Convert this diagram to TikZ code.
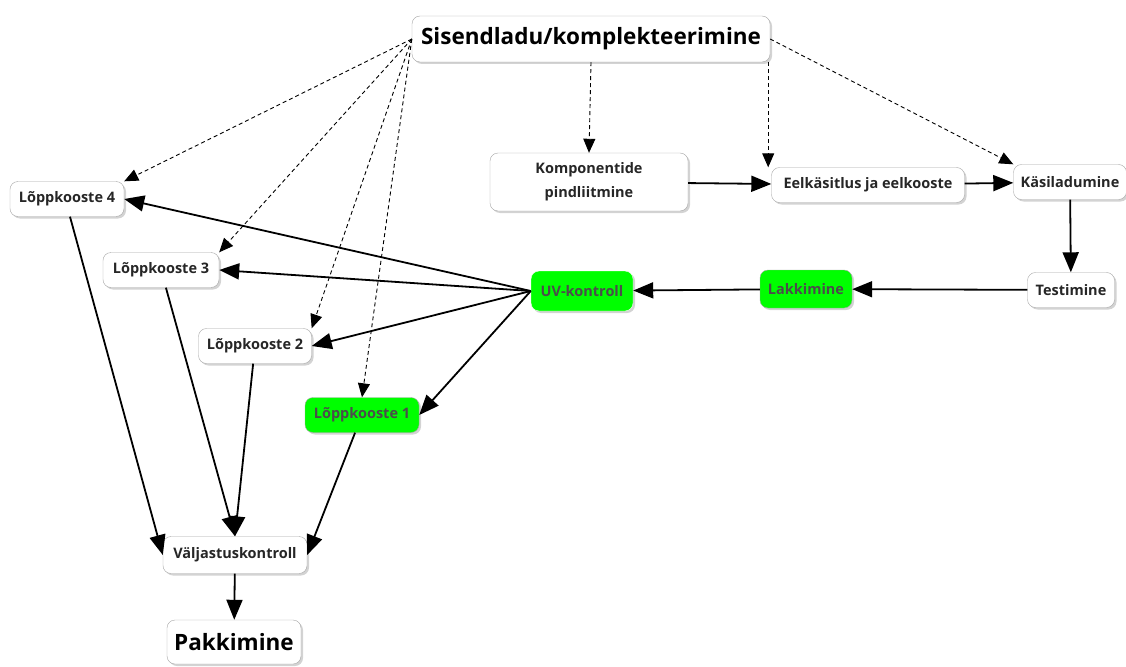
\documentclass[tikz,border=0pt]{standalone}
\usepackage{fontspec}
\setmainfont{Open Sans}
\usetikzlibrary{arrows.meta,shadows}

\begin{document}
\begin{tikzpicture}[x=1pt,y=-1pt,
  box/.style={draw=gray!70,rounded corners=8pt,fill=white,align=center,inner xsep=4pt,
    minimum height=35pt,font=\fontsize{14.5}{18}\selectfont\bfseries,text=black!85,
    drop shadow={opacity=0.35,shadow xshift=2pt,shadow yshift=-2pt}},
  bigbox/.style={box,minimum height=46pt,font=\fontsize{22.5}{27}\selectfont\bfseries,text=black},
  done/.style={box,fill=green,text=black!70},
  flow/.style={-{Triangle[length=20pt,width=16pt]},line width=1.8pt},
  feed/.style={-{Triangle[length=14pt,width=12pt]},dash pattern=on 4pt off 3pt,line width=0.9pt}]
\useasboundingbox (0,0) rectangle (1126,666);
\node[bigbox,minimum width=358pt] (sis) at (591,39) {Sisendladu/komplekteerimine};
\node[box,minimum width=198pt,minimum height=58pt,text width=170pt,
  font=\fontsize{14.5}{24}\selectfont\bfseries] (komp) at (589,182) {Komponentide\\ pindliitmine};
\node[box,minimum width=193pt] (eel) at (868,185) {Eelkäsitlus ja eelkooste};
\node[box,minimum width=113pt] (kasi) at (1070,182) {Käsiladumine};
\node[box,minimum width=87pt] (test) at (1071,290) {Testimine};
\node[done,minimum width=92pt,minimum height=38pt] (lakk) at (806,289) {Lakkimine};
\node[done,draw=white,minimum width=102pt,minimum height=40pt] (uv) at (582,291) {UV-kontroll};
\node[box,minimum width=114pt] (lk4) at (67,199) {Lõppkooste 4};
\node[box,minimum width=116pt] (lk3) at (161,270) {Lõppkooste 3};
\node[box,minimum width=113pt] (lk2) at (255,346) {Lõppkooste 2};
\node[done,minimum width=114pt] (lk1) at (362,415) {Lõppkooste 1};
\node[box,minimum width=144pt,minimum height=37pt] (valj) at (235,555) {Väljastuskontroll};
\node[bigbox,minimum width=134pt,minimum height=44pt] (pakk) at (234,642) {Pakkimine};

% sisendladu jaotus
\draw[feed] (sis.west) -- (lk4.north east);
\draw[feed] (sis.west) -- (lk3.north east);
\draw[feed] (sis.west) -- (lk2.north east);
\draw[feed] (sis.west) -- (lk1.north);
\draw[feed] (sis.south) -- (komp.north);
\draw[feed] (sis.south east) ++(-2,0) coordinate (se) (se) -- (se |- eel.north);
\draw[feed] (sis.east) -- (kasi.north west);

% pohivoog
\draw[flow] (komp) -- (eel);
\draw[flow] (eel) -- (kasi);
\draw[flow] (kasi) -- (test);
\draw[flow] (test) -- (lakk);
\draw[flow] (lakk) -- (uv);
\draw[flow] (uv.west) -- (lk4.east);
\draw[flow] (uv.west) -- (lk3.east);
\draw[flow] (uv.west) -- (lk2.east);
\draw[flow] (uv.west) -- (lk1.east);
\draw[flow] (lk4.south) ++(3,0) coordinate (a4) (a4) -- (valj.west);
\draw[flow] (lk3) -- (valj.north);
\draw[flow] (lk2) -- (valj.north);
\draw[flow] (lk1) -- (valj.east);
\draw[flow] (valj) -- (pakk);
\end{tikzpicture}
\end{document}
